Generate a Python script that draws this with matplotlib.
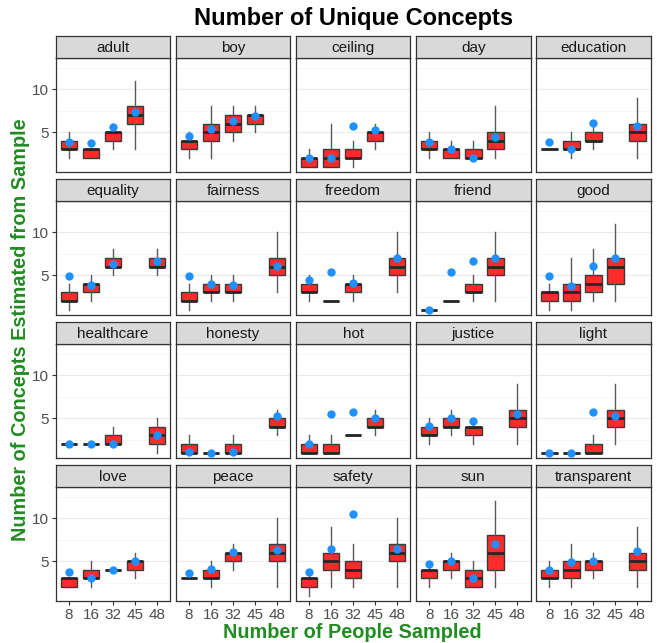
import numpy as np
import matplotlib
matplotlib.use('Agg')
import matplotlib.pyplot as plt

plt.rcParams['font.family'] = ['Liberation Sans', 'DejaVu Sans']

N = np.nan
concepts = ['adult', 'boy', 'ceiling', 'day', 'education',
            'equality', 'fairness', 'freedom', 'friend', 'good',
            'healthcare', 'honesty', 'hot', 'justice', 'light',
            'love', 'peace', 'safety', 'sun', 'transparent']
sample_sizes = ['8', '16', '32', '45', '48']

# box stats per concept (rows) and sample size (columns)
whisker_lo = [
    [2, 2, 3, 3, N], [2, 2, 4, 5, N], [1, 1, 1, 3, N], [2, 2, 2, 2, N], [3, 2, 3, N, 2],
    [1, 2, 5, N, 5], [1, 2, 2, N, 3], [2, 2, 2, N, 3], [1, 2, 2, 2, N], [1, 1, 2, 2, N],
    [2, 2, 2, N, 1], [1, 1, 1, N, 3], [1, 1, 3, 3, N], [2, 3, 2, N, 2], [1, 1, 1, 2, N],
    [2, 2, 4, 3, N], [3, 2, 4, N, 2], [1, 2, 2, N, 2], [2, 3, 2, 2, N], [2, 2, 3, N, 2]]
q1 = [
    [3, 2, 4, 6, N], [3, 4, 5, 6, N], [1, 1, 2, 4, N], [3, 2, 2, 3, N], [3, 3, 4, N, 4],
    [2, 3, 6, N, 6], [2, 3, 3, N, 5], [3, 2, 3, N, 5], [1, 2, 3, 5, N], [2, 2, 3, 4, N],
    [2, 2, 2, N, 2], [1, 1, 1, N, 4], [1, 1, 3, 4, N], [3, 4, 3, N, 4], [1, 1, 1, 4, N],
    [2, 3, 4, 4, N], [3, 3, 5, N, 5], [2, 4, 3, N, 5], [3, 4, 2, 4, N], [3, 3, 4, N, 4]]
median = [
    [3, 3, 5, 7, N], [4, 5, 6, 7, N], [2, 2, 2, 5, N], [3, 3, 2, 4, N], [3, 3, 4, N, 5],
    [2, 4, 6, N, 6], [2, 3, 3, N, 6], [3, 2, 4, N, 6], [1, 2, 3, 6, N], [3, 3, 4, 6, N],
    [2, 2, 2, N, 3], [1, 1, 1, N, 4], [1, 1, 3, 4, N], [3, 4, 4, N, 5], [1, 1, 1, 5, N],
    [3, 3, 4, 5, N], [3, 3, 6, N, 6], [3, 5, 4, N, 6], [4, 5, 3, 6, N], [3, 4, 5, N, 5]]
q3 = [
    [4, 3, 5, 8, N], [4, 6, 7, 7, N], [2, 3, 3, 5, N], [4, 3, 3, 5, N], [3, 4, 5, N, 6],
    [3, 4, 7, N, 7], [3, 4, 4, N, 7], [4, 2, 4, N, 7], [1, 2, 4, 7, N], [3, 4, 5, 7, N],
    [2, 2, 3, N, 4], [2, 1, 2, N, 5], [2, 2, 3, 5, N], [4, 5, 4, N, 6], [1, 1, 2, 6, N],
    [3, 4, 4, 5, N], [3, 4, 6, N, 7], [3, 6, 5, N, 7], [4, 5, 4, 8, N], [4, 5, 5, N, 6]]
whisker_hi = [
    [5, 3, 6, 11, N], [5, 8, 8, 8, N], [3, 6, 4, 6, N], [5, 4, 4, 8, N], [3, 5, 6, N, 9],
    [4, 5, 8, N, 8], [4, 5, 5, N, 10], [5, 2, 5, N, 10], [1, 2, 5, 10, N], [4, 7, 8, 11, N],
    [2, 2, 4, N, 5], [3, 1, 3, N, 6], [3, 3, 3, 6, N], [5, 6, 5, N, 9], [1, 1, 3, 9, N],
    [3, 5, 4, 6, N], [3, 5, 7, N, 10], [4, 9, 7, N, 10], [5, 6, 5, 12, N], [5, 7, 6, N, 9]]
# blue points: estimate from sample
estimate = [
    [3.9, 3.8, 5.6, 7.3, N], [4.6, 5.4, 6.3, 6.9, N], [2.0, 2.0, 5.7, 5.3, N],
    [3.9, 3.0, 2.0, 4.5, N], [3.9, 3.0, 6.1, N, 5.7],
    [4.95, 3.9, 6.25, N, 6.65], [4.95, 3.95, 3.9, N, 6.1], [4.5, 5.35, 4.15, N, 6.95],
    [1.0, 5.35, 6.7, 6.95, N], [4.95, 3.7, 6.05, 6.95, N],
    [2.0, 2.0, 2.05, N, 3.05], [1.05, 1.0, 1.05, N, 5.25], [2.0, 5.45, 5.75, 5.0, N],
    [4.05, 5.0, 4.7, N, 5.45], [1.0, 1.0, 5.75, 5.25, N],
    [3.7, 3.05, 4.0, 5.0, N], [3.65, 4.1, 6.05, N, 6.35], [3.7, 6.45, 10.5, N, 6.4],
    [4.65, 5.0, 3.05, 7.0, N], [3.95, 4.9, 5.05, N, 6.15]]

W, H = 657, 643
fig = plt.figure(figsize=(W / 100, H / 100), dpi=100)

left0, col_step, pw = 55.7, 120.1, 114.5
top0, row_step, ph, sh = 58.3, 143.0, 113.5, 22.5
edge = '#333333'

for k, name in enumerate(concepts):
    r, c = divmod(k, 5)
    x0 = left0 + c * col_step
    y0 = top0 + r * row_step
    ax = fig.add_axes([x0 / W, 1 - (y0 + ph) / H, pw / W, ph / H])
    st = fig.add_axes([x0 / W, 1 - y0 / H, pw / W, sh / H])

    stats, pos = [], []
    for j in range(5):
        if np.isnan(q1[k][j]):
            continue
        stats.append(dict(whislo=whisker_lo[k][j], q1=q1[k][j], med=median[k][j],
                          q3=q3[k][j], whishi=whisker_hi[k][j], fliers=[]))
        pos.append(j)
    ax.bxp(stats, positions=pos, widths=0.75, patch_artist=True, showfliers=False,
           showcaps=False,
           boxprops=dict(facecolor='#FF2A2A', edgecolor='#3a3a3a', linewidth=1.0),
           medianprops=dict(color='#262626', linewidth=2.0),
           whiskerprops=dict(color='#595959', linewidth=1.0), manage_ticks=False)
    ax.scatter(range(5), estimate[k], s=36, color='#1E90FF', zorder=4, linewidths=0)

    ax.set_xlim(-0.6, 4.6)
    ax.set_ylim(0.4, 13.6)
    ax.set_yticks([5, 10])
    ax.set_yticks([2.5, 7.5, 12.5], minor=True)
    ax.grid(axis='y', which='major', color='#EBEBEB', linewidth=0.9)
    ax.grid(axis='y', which='minor', color='#F2F2F2', linewidth=0.5)
    ax.set_axisbelow(True)
    ax.set_xticks(range(5))
    ax.tick_params(which='minor', left=False)
    ax.tick_params(which='major', length=3, color=edge, labelsize=11,
                   labelcolor='#4D4D4D', pad=2)
    if c == 0:
        ax.set_yticklabels(['5', '10'])
    else:
        ax.tick_params(axis='y', left=False, labelleft=False)
    if r == 3:
        ax.set_xticklabels(sample_sizes)
    else:
        ax.tick_params(axis='x', bottom=False, labelbottom=False)
    for s in ax.spines.values():
        s.set_color(edge)
        s.set_linewidth(0.9)

    st.set_facecolor('#D9D9D9')
    st.set_xticks([])
    st.set_yticks([])
    for s in st.spines.values():
        s.set_color(edge)
        s.set_linewidth(0.9)
    st.text(0.5, 0.47, name, ha='center', va='center', fontsize=11,
            color='#1A1A1A', transform=st.transAxes)

fig.text(354 / W, 1 - 18 / H, 'Number of Unique Concepts', ha='center', va='center',
         fontsize=17, fontweight='bold')
fig.text(352 / W, 1 - 632 / H, 'Number of People Sampled', ha='center', va='center',
         fontsize=14.3, fontweight='bold', color='#228B22')
fig.text(21 / W, 1 - 330 / H, 'Number of Concepts Estimated from Sample', ha='center',
         va='center', rotation=90, fontsize=14.3, fontweight='bold', color='#228B22')

fig.savefig('out.png', dpi=100)
